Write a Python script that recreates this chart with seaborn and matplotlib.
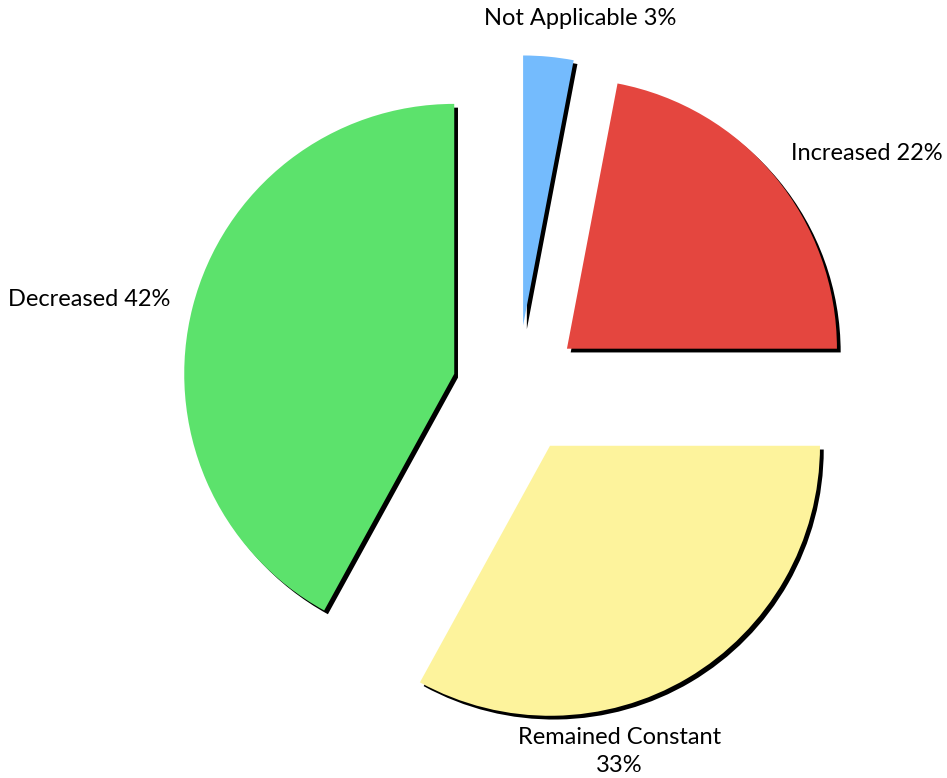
import matplotlib
matplotlib.use("Agg")
import matplotlib.pyplot as plt
import seaborn as sns
import numpy as np

categories = ["Not Applicable", "Increased", "Remained Constant", "Decreased"]
values = [3, 22, 33, 42]
label_texts = ["Not Applicable 3%", "Increased 22%", "Remained Constant\n33%", "Decreased 42%"]
colors = ["#74BBFD", "#E4463F", "#FDF39C", "#5CE26C"]

sns.set_theme(style="white")
plt.rcParams['font.family'] = ['Lato', 'DejaVu Sans']

fig = plt.figure(figsize=(9.47, 7.78), dpi=100)
ax = fig.add_axes([0, 0, 1, 1])

wedges, _ = ax.pie(
    values,
    colors=colors,
    startangle=90,
    counterclock=False,
    explode=[0.24] * len(values),
    radius=1.0,
    shadow={'ox': 0.01, 'oy': -0.01, 'shade': 1.0, 'alpha': 1.0},
    wedgeprops={'linewidth': 0},
)

R = 270
ax.set_xlim(-517 / R, (947 - 517) / R)
ax.set_ylim(-388 / R, 390 / R)
ax.set_aspect('equal', adjustable='datalim')
ax.axis('off')

# label positions (data coords)
pos = {
    0: (0.235, 1.375, 'center', 'center'),
    1: (1.015, 0.875, 'left', 'center'),
    2: (0.38, -1.34, 'center', 'center'),
    3: (-1.285, 0.335, 'right', 'center'),
}
for i, txt in enumerate(label_texts):
    x, y, ha, va = pos[i]
    ax.text(x, y, txt, ha=ha, va=va, fontsize=17, color="black",
            linespacing=1.4)

fig.savefig("out.png", dpi=100)
